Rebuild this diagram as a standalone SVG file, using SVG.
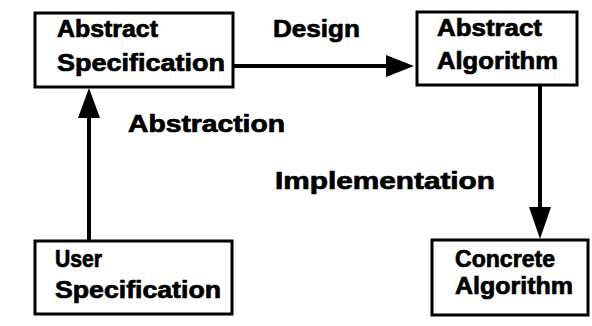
<svg xmlns="http://www.w3.org/2000/svg" width="592" height="326" viewBox="0 0 592 326">
<style>
.box{fill:#fff;stroke:#000;stroke-width:3}
.t{font-family:"Liberation Sans",Arial,sans-serif;font-weight:bold;font-size:23px;fill:#000;stroke:#000;stroke-width:0.7}
.ln{stroke:#000;stroke-width:4;fill:none}
.hd{fill:#000}
</style>
<rect width="592" height="326" fill="#fff"/>
<g id="connectors">
<line class="ln" x1="233" y1="66" x2="390" y2="66"/>
<polygon class="hd" points="386,55 414,66 386,77"/>
<line class="ln" x1="89" y1="241" x2="89" y2="115"/>
<polygon class="hd" points="78,118 89,88 100,118"/>
<line class="ln" x1="540" y1="86" x2="540" y2="210"/>
<polygon class="hd" points="529,207 540,239 551,207"/>
</g>
<g id="abstract-specification">
<rect class="box" x="35" y="13" width="198" height="74"/>
<text class="t" x="57" y="37" textLength="101" lengthAdjust="spacingAndGlyphs">Abstract</text>
<text class="t" x="57" y="71" textLength="168" lengthAdjust="spacingAndGlyphs">Specification</text>
</g>
<g id="abstract-algorithm">
<rect class="box" x="417" y="12" width="160" height="73"/>
<text class="t" x="437" y="36" textLength="105" lengthAdjust="spacingAndGlyphs">Abstract</text>
<text class="t" x="437" y="69" textLength="121" lengthAdjust="spacingAndGlyphs">Algorithm</text>
</g>
<g id="user-specification">
<rect class="box" x="35" y="241" width="197" height="73"/>
<text class="t" x="55" y="267" textLength="47" lengthAdjust="spacingAndGlyphs">User</text>
<text class="t" x="55" y="298" textLength="166" lengthAdjust="spacingAndGlyphs">Specification</text>
</g>
<g id="concrete-algorithm">
<rect class="box" x="432" y="240" width="156" height="75"/>
<text class="t" x="455" y="267" textLength="100" lengthAdjust="spacingAndGlyphs">Concrete</text>
<text class="t" x="455" y="294" textLength="118" lengthAdjust="spacingAndGlyphs">Algorithm</text>
</g>
<g id="labels">
<text class="t" x="273" y="37" textLength="87" lengthAdjust="spacingAndGlyphs">Design</text>
<text class="t" x="128" y="132" textLength="157" lengthAdjust="spacingAndGlyphs">Abstraction</text>
<text class="t" x="275" y="189" textLength="220" lengthAdjust="spacingAndGlyphs">Implementation</text>
</g>
</svg>
